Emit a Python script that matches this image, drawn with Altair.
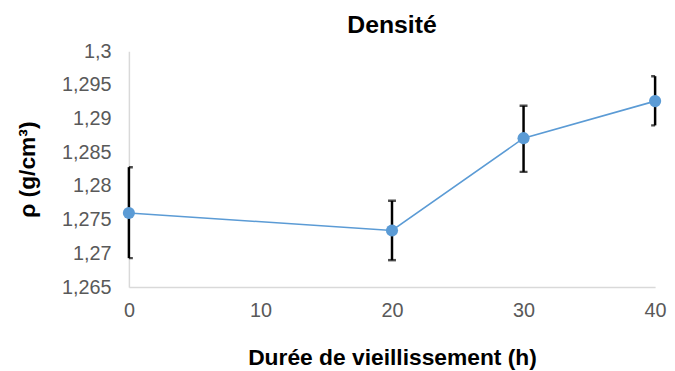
import altair as alt
import pandas as pd

durations = [0, 20, 30, 40]
density = [1.2760, 1.2734, 1.2871, 1.2926]
err_low = [1.2693, 1.2690, 1.2821, 1.2890]
err_high = [1.2828, 1.2778, 1.2919, 1.2963]
y_ticks = [1.265, 1.27, 1.275, 1.28, 1.285, 1.29, 1.295, 1.3]
x_ticks = [0, 10, 20, 30, 40]

df = pd.DataFrame({"t": durations, "rho": density, "lo": err_low, "hi": err_high})

FONT = "Liberation Sans"
xs = alt.Scale(domain=[0, 40], nice=False)
ys = alt.Scale(domain=[1.265, 1.3], nice=False, zero=False)

x_axis = alt.Axis(values=x_ticks, title="Durée de vieillissement (h)", grid=False, ticks=False,
                  domainColor="#d9d9d9", domainWidth=1.5, labelFontSize=20, labelColor="#595959",
                  labelFont=FONT, labelPadding=14, labelFlush=False, labelOverlap=False,
                  titleFont=FONT, titleFontSize=23,
                  titleFontWeight="bold", titleColor="#000000", titlePadding=26)
y_axis = alt.Axis(values=y_ticks, title="ρ (g/cm³)", grid=False, ticks=False,
                  domainColor="#d9d9d9", domainWidth=1.5, labelFontSize=20, labelColor="#595959",
                  labelFont=FONT, labelPadding=18, labelOverlap=False, labelFlush=False,
                  labelExpr="replace(format(datum.value, '.3~f'), '.', ',')",
                  titleFont=FONT, titleFontSize=23, titleFontWeight="bold",
                  titleColor="#000000", titlePadding=22)

base = alt.Chart(df)
X = alt.X("t:Q", scale=xs, axis=x_axis)

line = base.mark_line(color="#5B9BD5", strokeWidth=1.6).encode(
    x=X, y=alt.Y("rho:Q", scale=ys, axis=y_axis),
)
rules = base.mark_rule(color="#000000", strokeWidth=2.5).encode(
    x=X, y=alt.Y("lo:Q", scale=ys, axis=y_axis), y2="hi:Q"
)
cap_lo = base.mark_tick(color="#000000", orient="horizontal", size=8, thickness=2.5, clip=True).encode(
    x=X, y=alt.Y("lo:Q", scale=ys, axis=y_axis)
)
cap_hi = base.mark_tick(color="#000000", orient="horizontal", size=8, thickness=2.5, clip=True).encode(
    x=X, y=alt.Y("hi:Q", scale=ys, axis=y_axis)
)
points = base.mark_circle(color="#5B9BD5", size=150, opacity=1).encode(
    x=X, y=alt.Y("rho:Q", scale=ys, axis=y_axis)
)

chart = alt.layer(line, rules, cap_lo, cap_hi, points).properties(
    width=531, height=238,
    title=alt.TitleParams("Densité", font=FONT, fontSize=25, fontWeight="bold",
                          color="#000000", anchor="middle", offset=3),
    autosize=alt.AutoSizeParams(type="none"),
    padding={"left": 122, "top": 42, "right": 12, "bottom": 83},
).configure_view(stroke=None).configure_axis(labelOverlap=False)

chart.save("out.html", embed_options={"renderer": "svg", "actions": False})
